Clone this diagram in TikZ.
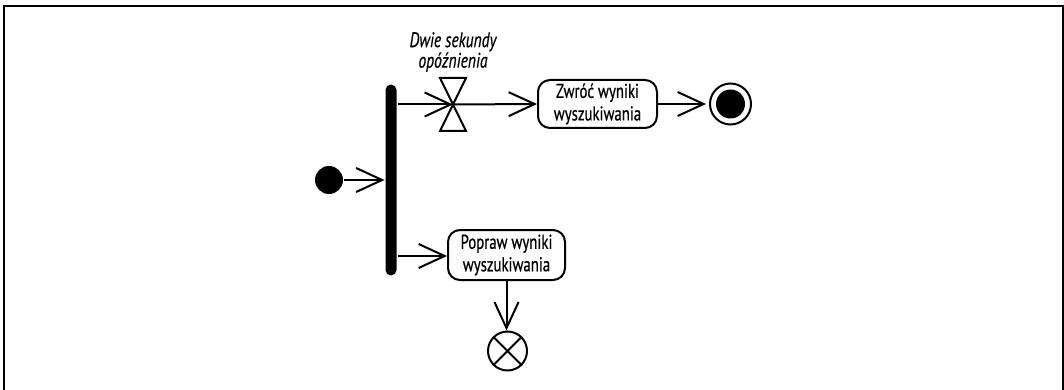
\documentclass[tikz,border=0pt]{standalone}
\usepackage{fontspec}
\setmainfont[FakeStretch=0.74]{PT Sans}
\usetikzlibrary{arrows.meta}
\begin{document}
\begin{tikzpicture}[x=1pt,y=-1pt,
  line width=2pt,
  flow/.style={-{Straight Barb[length=26pt,width=24pt,line width=2pt]}},
  action/.style={draw,rounded corners=12pt,align=center,inner sep=0pt,
    font=\fontsize{20}{22.5}\selectfont\addfontfeatures{FakeBold=0.6}},
  note/.style={align=center,font=\fontsize{21}{20.5}\selectfont\itshape\addfontfeatures{FakeBold=0.5}}]
\useasboundingbox (0,0) rectangle (1064,390);
% frame open at the bottom
\draw (4,390) -- (4,6) -- (1063,6) -- (1063,390);

% initial node and fork bar
\node[circle,fill=black,minimum size=28pt,inner sep=0pt] (init) at (329,180) {};
\node[rectangle,fill=black,rounded corners=5.5pt,minimum width=11pt,minimum height=191pt,inner sep=0pt] (fork) at (391,180) {};

% time event (hourglass)
\node[minimum width=24pt,minimum height=51pt,inner sep=0pt] (hg) at (453,104.5) {};
\draw[line join=miter] (hg.north west) -- (hg.north east) -- (hg.south west) -- (hg.south east) -- cycle;
\node[note] (delay) at (453,52) {Dwie sekundy\\opóźnienia};

% actions
\node[action,minimum width=119pt,minimum height=48pt] (zw) at (597.5,104) {Zwróć wyniki\\wyszukiwania};
\node[action,minimum width=117pt,minimum height=50pt] (pop) at (506.5,255) {Popraw wyniki\\wyszukiwania};

% activity final
\node[circle,draw,minimum size=41pt,inner sep=0pt] (final) at (730.5,104) {};
\fill (final.center) circle (14.5pt);

% flow final
\node[circle,draw,minimum size=39pt,inner sep=0pt] (ff) at (507.5,351) {};
\draw (ff.45) -- (ff.225) (ff.135) -- (ff.315);

% flows
\draw[flow] (init) -- (init -| fork.west);
\draw[flow] (fork.east |- hg) -- (hg.center);
\draw[flow] (hg.center) -- (zw.west);
\draw[flow,shorten >=3pt] (zw.east) -- (final.west);
\draw[flow] (fork.east |- 0,256) -- (pop.west |- 0,256);
\draw[flow] (pop.south) -- (pop.south |- ff.north);
\end{tikzpicture}
\end{document}
